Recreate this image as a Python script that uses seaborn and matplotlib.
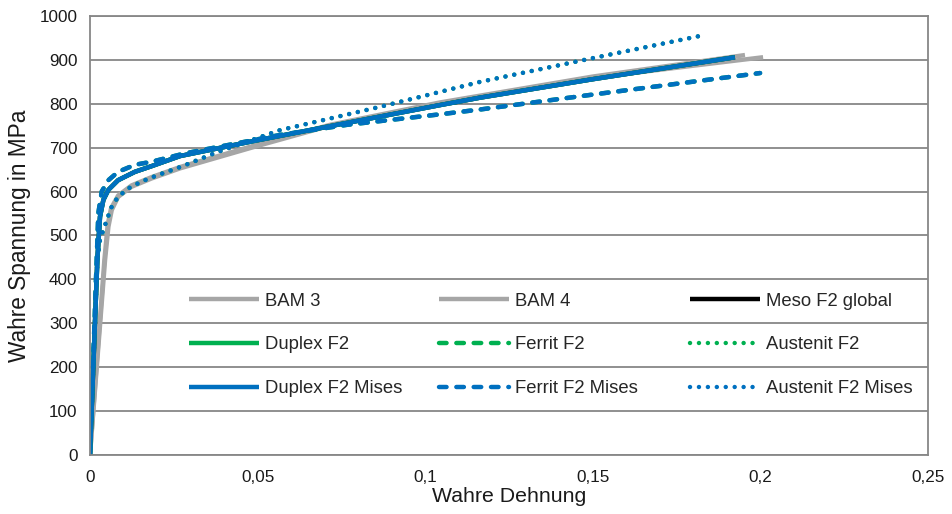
import matplotlib
matplotlib.use("Agg")
import matplotlib.pyplot as plt
import seaborn as sns

sns.set_theme(style="white")
plt.rcParams['font.family'] = ['Liberation Sans', 'DejaVu Sans']

# strain / stress values
bam3_x = [0, 0.0045, 0.0055, 0.0065, 0.0084, 0.0124, 0.0184, 0.0269, 0.05, 0.0716, 0.1044, 0.15, 0.2008]
bam3_y = [0, 444, 520, 558, 588, 611, 630, 653, 704, 750, 801, 859, 906]
bam4_x = [0, 0.0043, 0.0053, 0.0063, 0.0084, 0.0124, 0.0184, 0.0269, 0.05, 0.0716, 0.1044, 0.15, 0.1954]
bam4_y = [0, 444, 525, 562, 591, 614, 633, 656, 707, 752, 803, 862, 911]

duplex_x = [0, 0.0022, 0.003, 0.004, 0.0055, 0.0084, 0.0134, 0.0184, 0.0269, 0.05, 0.075, 0.1044, 0.1164, 0.15, 0.1924]
duplex_y = [0, 444, 543, 581, 604, 626, 645, 658, 681, 717, 754, 797, 814, 856, 906]
ferrit_x = [0, 0.0018, 0.0025, 0.0035, 0.0055, 0.0084, 0.0134, 0.0184, 0.0283, 0.0567, 0.0766, 0.1044, 0.1164, 0.15, 0.1999]
ferrit_y = [0, 400, 551, 600, 626, 645, 661, 668, 687, 729, 752, 776, 787, 821, 870]
austenit_x = [0, 0.0022, 0.003, 0.005, 0.0065, 0.0084, 0.0114, 0.0154, 0.0204, 0.0273, 0.038, 0.0567, 0.0865, 0.1044, 0.1164, 0.15, 0.1835]
austenit_y = [0, 444, 490, 535, 566, 588, 607, 623, 638, 657, 690, 740, 793, 827, 850, 904, 957]

x_ticks = [0, 0.05, 0.1, 0.15, 0.2, 0.25]
x_tick_labels = ["0", "0,05", "0,1", "0,15", "0,2", "0,25"]
y_ticks = [0, 100, 200, 300, 400, 500, 600, 700, 800, 900, 1000]

gray = "#A6A6A6"
green = "#00B050"
blue = "#0070C0"
dashed = (0, (1.7, 2.2))
dotted = (0, (0.01, 2.0))

fig = plt.figure(figsize=(9.52, 5.14), dpi=100)
ax = fig.add_axes([0.0945, 0.1148, 0.8803, 0.8541])

series = [
    ("BAM 3", bam3_x, bam3_y, gray, "-"),
    ("BAM 4", bam4_x, bam4_y, gray, "-"),
    ("Meso F2 global", duplex_x, duplex_y, "black", "-"),
    ("Duplex F2", duplex_x, duplex_y, green, "-"),
    ("Ferrit F2", ferrit_x, ferrit_y, green, dashed),
    ("Austenit F2", austenit_x, austenit_y, green, dotted),
    ("Duplex F2 Mises", duplex_x, duplex_y, blue, "-"),
    ("Ferrit F2 Mises", ferrit_x, ferrit_y, blue, dashed),
    ("Austenit F2 Mises", austenit_x, austenit_y, blue, dotted),
]

handles = {}
for name, xs, ys, col, ls in series:
    sns.lineplot(x=xs, y=ys, ax=ax, color=col, linewidth=3.2, linestyle=ls,
                 estimator=None, sort=False, dash_capstyle="round",
                 solid_capstyle="butt", solid_joinstyle="round")
    handles[name] = ax.lines[-1]

ax.set_xlim(0, 0.25)
ax.set_ylim(0, 1000)
ax.set_xticks(x_ticks)
ax.set_xticklabels(x_tick_labels)
ax.set_yticks(y_ticks)
ax.grid(axis="y", color="#878787", linewidth=1.3)
ax.grid(axis="x", visible=False)
ax.set_axisbelow(True)
for sp in ax.spines.values():
    sp.set_color("#878787")
    sp.set_linewidth(1.3)
ax.tick_params(axis="both", direction="out", length=5, width=1.3, color="#878787",
               labelsize=12.3, labelcolor="#1a1a1a", pad=4)
ax.tick_params(axis="x", pad=6)
ax.set_xlabel("Wahre Dehnung", fontsize=15.3, color="#1a1a1a", labelpad=1)
ax.set_ylabel("Wahre Spannung in MPa", fontsize=16.3, color="#1a1a1a", labelpad=6)

# one legend per column, rows aligned like the original
columns = [
    ["BAM 3", "Duplex F2", "Duplex F2 Mises"],
    ["BAM 4", "Ferrit F2", "Ferrit F2 Mises"],
    ["Meso F2 global", "Austenit F2", "Austenit F2 Mises"],
]
col_x = [0.1180, 0.4165, 0.7160]
legends = []
for names, cx in zip(columns, col_x):
    leg = ax.legend([handles[n] for n in names], names, loc="center left",
                    bbox_to_anchor=(cx, 0.2506), frameon=False, fontsize=13.3,
                    handlelength=3.8, handletextpad=0.3, labelspacing=1.45,
                    borderpad=0, borderaxespad=0)
    legends.append(leg)
# the last one stays as the axes legend, the others are added as artists
for leg in legends[:-1]:
    ax.add_artist(leg)

fig.savefig("out.png", dpi=100)
